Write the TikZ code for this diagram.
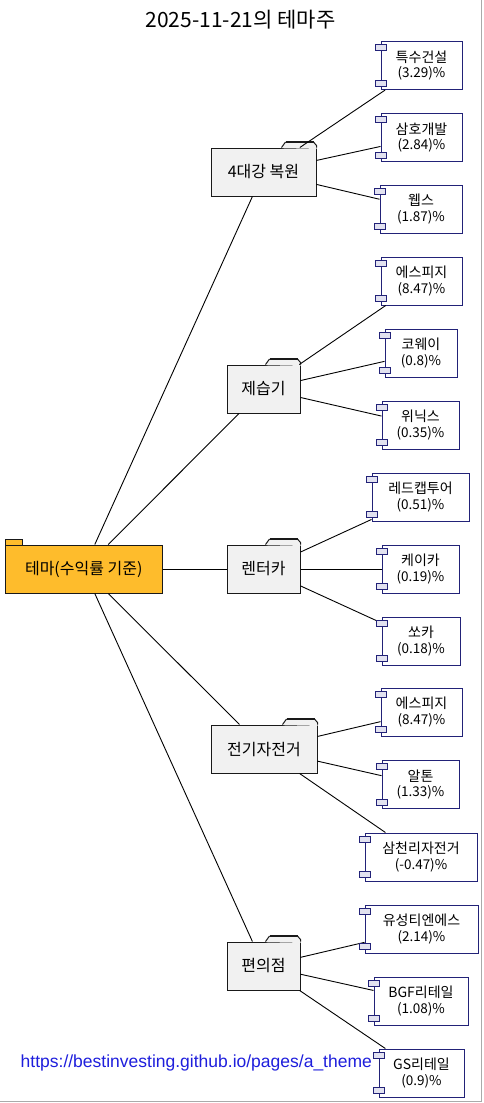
\documentclass[tikz,border=0pt]{standalone}
\usepackage{fontspec}
\setmainfont{Noto Sans CJK KR}
\newfontfamily\urlfont{Liberation Sans}
\definecolor{rootfill}{RGB}{254,188,44}
\definecolor{foldfill}{RGB}{241,241,241}
\definecolor{compborder}{RGB}{34,34,120}
\definecolor{portfill}{RGB}{226,226,240}
\definecolor{urlblue}{RGB}{30,30,220}
\definecolor{edgegray}{RGB}{170,170,170}
\newcommand\pctline[1]{{\fontsize{13.5}{15.5}\selectfont(#1)\%}}
\newcommand\ftab[1]{%
  \fill[foldfill] ([xshift=-35pt,yshift=-0.7pt]#1.north east) -- ++(4,-6.2) -- ++(28,0) -- ++(3,3.5) -- ++(0,3.4) -- cycle;
  \draw[foldline] ([xshift=-35pt]#1.north east) -- ++(4,-5.5) ++(28,0) -- ++(3,3.5) -- ++(0,2);
  \draw[foldline, line width=1.8pt] ([xshift=-31pt,yshift=5.5pt]#1.north east) -- ++(28,0);}
\newcommand\ports[1]{%
  \draw[portstyle] ([xshift=-5.5pt,yshift=-3.5pt]#1.north west) rectangle ++(11,6);
  \draw[portstyle] ([xshift=-5.5pt,yshift=10pt]#1.south west) rectangle ++(11,6);}
\begin{document}
\begin{tikzpicture}[x=1pt,y=-1pt,
  rootbox/.style={draw=black!90, fill=rootfill, line width=1pt, minimum width=157.5pt, minimum height=48pt, inner sep=0pt, font=\fontsize{16}{19}\selectfont},
  foldline/.style={draw=black!90, line width=1pt},
  folderbox/.style={draw=black!90, fill=foldfill, line width=1pt, minimum height=48pt, inner sep=0pt, font=\fontsize{16}{19}\selectfont},
  compbox/.style={draw=compborder, fill=white, line width=1pt, minimum height=48pt, inner sep=0pt, align=center, font=\fontsize{14}{15.5}\selectfont},
  portstyle/.style={draw=compborder, fill=portfill, line width=0.8pt},
  link/.style={draw=black, line width=0.9pt}]
\useasboundingbox (0,0) rectangle (483,1103);
\draw[edgegray, line width=1pt] (481.5,0) -- (481.5,1101.5) -- (0,1101.5);

\node[anchor=base, inner sep=0pt, font=\fontsize{21}{24}\selectfont] (title) at (240.5,27.3) {2025-11-21의 테마주};

% root
\node[rootbox] (root) at (83.75,569) {테마(수익률 기준)};
\draw[draw=black!90, fill=rootfill, line width=1pt] (5,539.5) rectangle (22,545);

% folders
\node[folderbox, minimum width=105pt] (f1) at (263.5,172) {4대강 복원};
\node[folderbox, minimum width=73pt] (f2) at (263.5,389) {제습기};
\node[folderbox, minimum width=73pt] (f3) at (263.5,569) {렌터카};
\node[folderbox, minimum width=106pt] (f4) at (264,749) {전기자전거};
\node[folderbox, minimum width=73pt] (f5) at (263.5,966) {편의점};
\ftab{f1}\ftab{f2}\ftab{f3}\ftab{f4}\ftab{f5}

% components
\node[compbox, minimum width=81pt] (c1) at (421.5,65.5) {특수건설\\\pctline{3.29}};
\node[compbox, minimum width=81pt] (c2) at (421.5,137.5) {삼호개발\\\pctline{2.84}};
\node[compbox, minimum width=82pt] (c3) at (421,209) {웹스\\\pctline{1.87}};
\node[compbox, minimum width=81pt] (c4) at (421.5,281) {에스피지\\\pctline{8.47}};
\node[compbox, minimum width=72pt] (c5) at (421,353) {코웨이\\\pctline{0.8}};
\node[compbox, minimum width=77pt] (c6) at (420.5,425) {위닉스\\\pctline{0.35}};
\node[compbox, minimum width=97pt] (c7) at (420.5,497) {레드캡투어\\\pctline{0.51}};
\node[compbox, minimum width=77pt] (c8) at (420.5,569) {케이카\\\pctline{0.19}};
\node[compbox, minimum width=78pt] (c9) at (421,641) {쏘카\\\pctline{0.18}};
\node[compbox, minimum width=81pt] (c10) at (421.5,712) {에스피지\\\pctline{8.47}};
\node[compbox, minimum width=77pt] (c11) at (420.5,784.5) {알톤\\\pctline{1.33}};
\node[compbox, minimum width=112pt] (c12) at (421,857) {삼천리자전거\\\pctline{-0.47}};
\node[compbox, minimum width=113pt] (c13) at (421.5,929) {유성티엔에스\\\pctline{2.14}};
\node[compbox, minimum width=94pt] (c14) at (421,1001) {BGF리테일\\\pctline{1.08}};
\node[compbox, minimum width=85pt] (c15) at (421.5,1073) {GS리테일\\\pctline{0.9}};

% connectors
\foreach \f in {f1,f2,f3,f4,f5} {\draw[link] (root) -- (\f);}
\draw[link] (f1) -- (c1); \draw[link] (f1) -- (c2); \draw[link] (f1) -- (c3);
\draw[link] (f2) -- (c4); \draw[link] (f2) -- (c5); \draw[link] (f2) -- (c6);
\draw[link] (f3) -- (c7); \draw[link] (f3) -- (c8); \draw[link] (f3) -- (c9);
\draw[link] (f4) -- (c10); \draw[link] (f4) -- (c11); \draw[link] (f4) -- (c12);
\draw[link] (f5) -- (c13); \draw[link] (f5) -- (c14); \draw[link] (f5) -- (c15);

\foreach \c in {c1,c2,c3,c4,c5,c6,c7,c8,c9,c10,c11,c12,c13,c14,c15} {\ports{\c}}

\node[anchor=base west, inner sep=0pt, font=\urlfont\fontsize{17.5}{20}\selectfont, text=urlblue] (url) at (20.5,1067.7) {https://bestinvesting.github.io/pages/a\_theme};
\end{tikzpicture}
\end{document}
